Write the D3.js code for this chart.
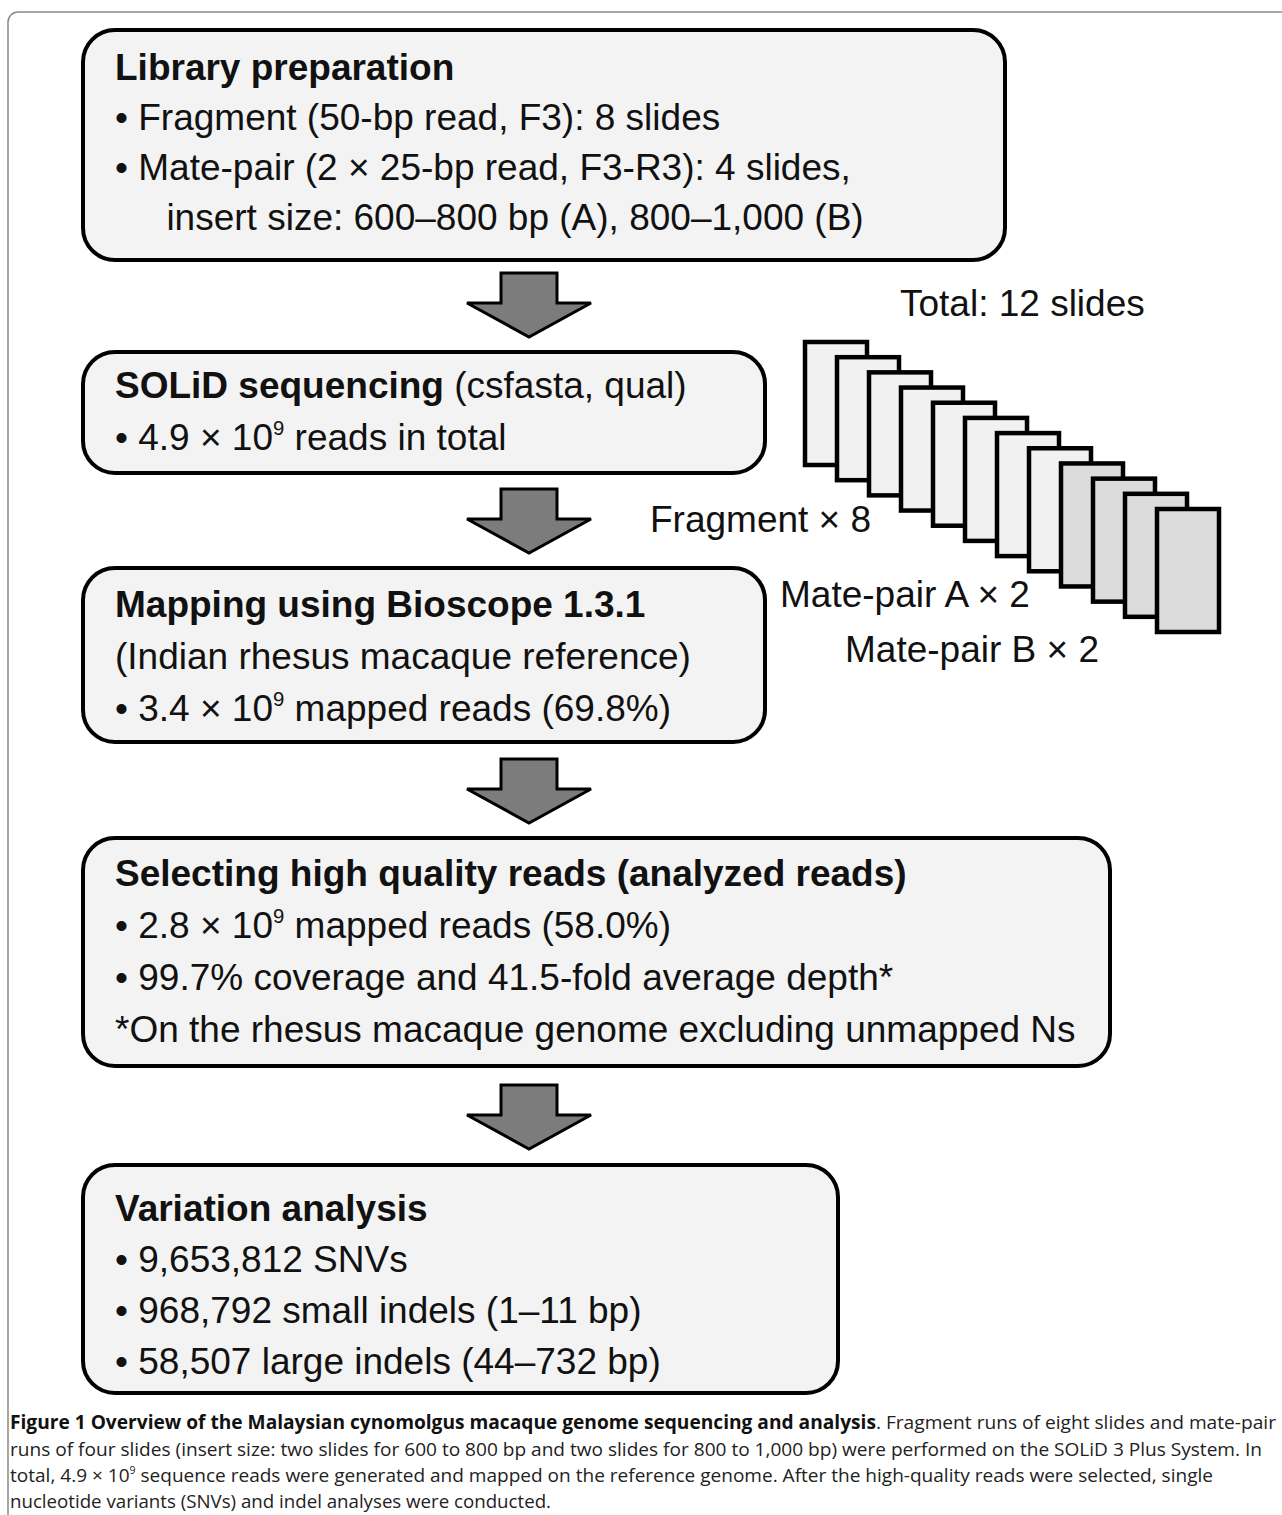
<!DOCTYPE html>
<html>
<head>
<meta charset="utf-8">
<script src="https://cdn.jsdelivr.net/npm/d3@7"></script>
<style>
  body { margin: 0; background: #fff; }
  svg { display: block; }
</style>
</head>
<body>
<div id="chart"></div>
<script>
// flow steps (text only)
const stepTitles = [
  "Library preparation",
  "SOLiD sequencing",
  "Mapping using Bioscope 1.3.1",
  "Selecting high quality reads (analyzed reads)",
  "Variation analysis"
];
const stepTitleNotes = ["", " (csfasta, qual)", "", "", ""];
const stepLines = [
  ["• Fragment (50-bp read, F3): 8 slides",
   "• Mate-pair (2 × 25-bp read, F3-R3): 4 slides,",
   "     insert size: 600–800 bp (A), 800–1,000 (B)"],
  ["• 4.9 × 10^9 reads in total"],
  ["(Indian rhesus macaque reference)",
   "• 3.4 × 10^9 mapped reads (69.8%)"],
  ["• 2.8 × 10^9 mapped reads (58.0%)",
   "• 99.7% coverage and 41.5-fold average depth*",
   "*On the rhesus macaque genome excluding unmapped Ns"],
  ["• 9,653,812 SNVs",
   "• 968,792 small indels (1–11 bp)",
   "• 58,507 large indels (44–732 bp)"]
];

// slides
const slideLabels = ["Fragment", "Mate-pair A", "Mate-pair B"];
const slideCounts = [8, 2, 2];
const slideTotalLabel = "Total: 12 slides";

// caption
const captionBold = "Figure 1 Overview of the Malaysian cynomolgus macaque genome sequencing and analysis";
const captionLines = [
  ". Fragment runs of eight slides and mate-pair",
  "runs of four slides (insert size: two slides for 600 to 800 bp and two slides for 800 to 1,000 bp) were performed on the SOLiD 3 Plus System. In",
  "total, 4.9 × 10^9 sequence reads were generated and mapped on the reference genome. After the high-quality reads were selected, single",
  "nucleotide variants (SNVs) and indel analyses were conducted."
];

// layout
const w = 1282, h = 1515;
const boxes = [
  {x: 83, y: 30, w: 922, h: 230, top: 50, step: 50},
  {x: 83, y: 352, w: 682, h: 121, top: 46, step: 52},
  {x: 83, y: 568, w: 682, h: 174, top: 49, step: 52},
  {x: 83, y: 838, w: 1027, h: 228, top: 48, step: 52},
  {x: 83, y: 1165, w: 755, h: 228, top: 56, step: 51}
];
const arrowTops = [273, 489, 759, 1085];
const arrowX = 529;
const textX = 115;
const fontFam = "'Liberation Sans', Arial, sans-serif";

const svg = d3.select("#chart").append("svg")
  .attr("width", w).attr("height", h)
  .attr("viewBox", `0 0 ${w} ${h}`);

// outer frame
svg.append("rect")
  .attr("x", 8).attr("y", 12).attr("width", 1320).attr("height", 1600)
  .attr("rx", 10)
  .attr("fill", "none").attr("stroke", "#8a8a8a").attr("stroke-width", 1.5);

// helper for text with ^ superscripts
const writeRich = (sel, str, size) => {
  const parts = str.split(/\^(\d+)/);
  let back = 0;
  parts.forEach((p, i) => {
    if (p === "") return;
    if (i % 2 === 1) {
      sel.append("tspan").attr("dy", -size * 0.4).attr("font-size", size * 0.55).text(p);
      back = size * 0.4;
    } else {
      const ts = sel.append("tspan").text(p);
      if (back) { ts.attr("dy", back); back = 0; }
    }
  });
};

// boxes
const g = svg.selectAll("g.step")
  .data(boxes)
  .enter()
  .append("g")
  .attr("class", "step");

g.append("rect")
  .attr("x", d => d.x).attr("y", d => d.y)
  .attr("width", d => d.w).attr("height", d => d.h)
  .attr("rx", 32).attr("ry", 32)
  .attr("fill", "#f3f3f3")
  .attr("stroke", "#000").attr("stroke-width", 4);

g.each(function(d, i) {
  const grp = d3.select(this);
  const title = grp.append("text")
    .attr("x", textX).attr("y", d.y + d.top)
    .attr("font-family", fontFam).attr("font-size", 37).attr("fill", "#111");
  title.append("tspan").attr("font-weight", "bold").text(stepTitles[i]);
  if (stepTitleNotes[i]) title.append("tspan").text(stepTitleNotes[i]);

  stepLines[i].forEach((line, j) => {
    const t = grp.append("text")
      .attr("x", textX).attr("y", d.y + d.top + d.step * (j + 1))
      .attr("font-family", fontFam).attr("font-size", 37).attr("fill", "#111")
      .attr("xml:space", "preserve")
      .style("white-space", "pre");
    writeRich(t, line, 37);
  });
});

// arrows
const arrowPath = d3.path();
arrowPath.moveTo(-28, 0);
arrowPath.lineTo(28, 0);
arrowPath.lineTo(28, 30);
arrowPath.lineTo(62, 30);
arrowPath.lineTo(0, 64);
arrowPath.lineTo(-62, 30);
arrowPath.lineTo(-28, 30);
arrowPath.closePath();

svg.selectAll("path.arrow")
  .data(arrowTops)
  .enter()
  .append("path")
  .attr("class", "arrow")
  .attr("d", arrowPath.toString())
  .attr("transform", d => `translate(${arrowX},${d})`)
  .attr("fill", "#7c7c7c")
  .attr("stroke", "#000").attr("stroke-width", 3)
  .attr("stroke-linejoin", "miter");

// slides
const slides = [];
slideCounts.forEach((c, gi) => {
  for (let k = 0; k < c; k++) slides.push({group: gi});
});
const sx = d3.scaleLinear().domain([0, slides.length - 1]).range([805, 1157]);
const sy = d3.scaleLinear().domain([0, slides.length - 1]).range([342, 509]);
const slideFill = d3.scaleOrdinal().domain([0, 1, 2]).range(["#f1f1f1", "#dcdcdc", "#dcdcdc"]);

svg.selectAll("rect.slide")
  .data(slides)
  .enter()
  .append("rect")
  .attr("class", "slide")
  .attr("x", (d, i) => sx(i)).attr("y", (d, i) => sy(i))
  .attr("width", 62).attr("height", 123)
  .attr("fill", d => slideFill(d.group))
  .attr("stroke", "#000").attr("stroke-width", 4.5);

svg.append("text")
  .attr("x", 900).attr("y", 316)
  .attr("font-family", fontFam).attr("font-size", 37).attr("fill", "#111")
  .text(slideTotalLabel);

const labelPos = [[650, 532], [780, 607], [845, 662]];
svg.selectAll("text.slideLabel")
  .data(slideLabels)
  .enter()
  .append("text")
  .attr("class", "slideLabel")
  .attr("x", (d, i) => labelPos[i][0]).attr("y", (d, i) => labelPos[i][1])
  .attr("font-family", fontFam).attr("font-size", 37).attr("fill", "#111")
  .text((d, i) => `${d} × ${slideCounts[i]}`);

// caption
const capFont = "'Open Sans', 'Noto Sans', sans-serif";
const capY = [1429, 1456, 1482, 1508];
const capLen = [1266, 1252, 1203, 541];
captionLines.forEach((line, i) => {
  const t = svg.append("text")
    .attr("x", 10).attr("y", capY[i])
    .attr("font-family", capFont).attr("font-size", 19).attr("fill", "#222")
    .attr("textLength", capLen[i]).attr("lengthAdjust", "spacingAndGlyphs");
  if (i === 0) t.append("tspan").attr("font-weight", "bold").attr("fill", "#111").text(captionBold);
  writeRich(t, line, 19);
});
</script>
</body>
</html>
